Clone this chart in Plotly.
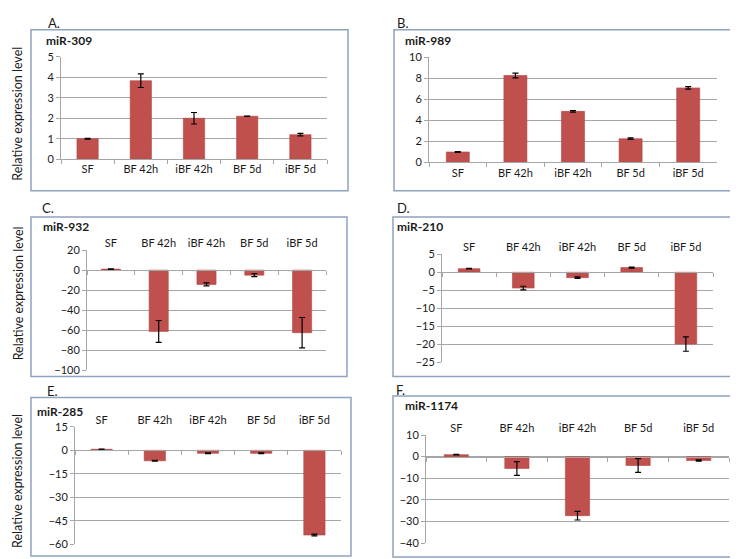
import plotly.graph_objects as go

W, H = 738, 559

categories = ["SF", "BF 42h", "iBF 42h", "BF 5d", "iBF 5d"]

panel_letters = ["A.", "B.", "C.", "D.", "E.", "F."]
panel_titles = ["miR-309", "miR-989", "miR-932", "miR-210", "miR-285", "miR-1174"]

mir309 = [1.0, 3.83, 2.0, 2.1, 1.2]
mir309_err = [0.02, 0.33, 0.28, 0.01, 0.06]
mir989 = [1.0, 8.27, 4.86, 2.26, 7.09]
mir989_err = [0.03, 0.22, 0.08, 0.07, 0.12]
mir932 = [1.0, -61.2, -14.3, -5.0, -62.5]
mir932_err = [0.3, 10.9, 1.5, 1.5, 15.2]
mir210 = [1.0, -4.4, -1.5, 1.3, -20.0]
mir210_err = [0.1, 0.5, 0.2, 0.15, 2.0]
mir285 = [0.7, -6.7, -1.9, -1.9, -54.2]
mir285_err = [0.1, 0.3, 0.3, 0.3, 0.6]
mir1174 = [0.9, -5.5, -27.3, -4.1, -1.8]
mir1174_err = [0.1, 3.2, 2.0, 3.2, 0.3]

series = [mir309, mir989, mir932, mir210, mir285, mir1174]
errors = [mir309_err, mir989_err, mir932_err, mir210_err, mir285_err, mir1174_err]

y_ranges = [(0, 5), (0, 10), (-100, 20), (-25, 5), (-60, 15), (-40, 10)]
y_dticks = [1, 2, 20, 5, 15, 10]

# layout (pixel) geometry
plot_px = [  # x0, x1, ytop, ybottom
    (53, 319, 42.7, 147.7),
    (421, 709, 43.3, 151),
    (79, 318, 240.7, 363.7),
    (434, 705, 245, 355.3),
    (67, 333, 421.7, 541.7),
    (418, 721, 430, 540.7),
]
box_px = [
    (23, 340, 15, 180),
    (386, 728, 15, 180),
    (23, 339, 206.7, 370),
    (385, 727, 206.7, 370),
    (23, 343, 391.7, 554),
    (385, 727, 390, 555),
]
letter_px = [(38, 8), (387, 8), (32, 198), (387, 198), (37, 385), (386, 384)]
title_px = [(36, 26), (395, 26), (33, 217), (387, 217), (27, 406), (395, 400)]

BAR = "#C0504D"
BAR_EDGE = "#B24744"
GRID = "#A6A6A6"
BORDER = "#8EA3C0"
TXT = "#1a1a1a"
FONT = "Lato, 'Open Sans', sans-serif"


def px2x(px):
    return px / W


def px2y(py):
    return 1 - py / H


fig = go.Figure()
layout = dict(
    width=W, height=H, margin=dict(l=0, r=0, t=0, b=0),
    paper_bgcolor="white", plot_bgcolor="white",
    showlegend=False, bargap=0.6,
    font=dict(family=FONT, size=11, color=TXT),
    shapes=[], annotations=[],
)

extra_axis = 7
for i in range(6):
    n = i + 1
    xa = "x" if n == 1 else f"x{n}"
    ya = "y" if n == 1 else f"y{n}"
    x0, x1, yt, yb = plot_px[i]
    lo, hi = y_ranges[i]
    ydom = [px2y(yb), px2y(yt)]
    fig.add_trace(go.Bar(
        x=categories, y=series[i], xaxis=xa, yaxis=ya,
        marker=dict(color=BAR, line=dict(color=BAR_EDGE, width=0.6)),
        error_y=dict(type="data", array=errors[i], visible=True,
                     color="black", thickness=1.2, width=3),
    ))
    zero_pos = ydom[0] + (0 - lo) / (hi - lo) * (ydom[1] - ydom[0])
    xaxis = dict(
        domain=[px2x(x0), px2x(x1)], type="category",
        categoryorder="array", categoryarray=categories,
        range=[-0.5, 4.5], showline=True, linecolor=GRID, linewidth=1,
        ticks="outside", tickson="boundaries", ticklen=4, tickcolor=GRID,
        showgrid=False, zeroline=False, fixedrange=True,
        tickfont=dict(size=11, color=TXT),
    )
    if lo < 0:
        xaxis.update(anchor="free", position=zero_pos, showticklabels=False)
    else:
        xaxis.update(anchor=ya)
    layout["xaxis" if n == 1 else f"xaxis{n}"] = xaxis
    layout["yaxis" if n == 1 else f"yaxis{n}"] = dict(
        domain=ydom, range=[lo, hi], anchor=xa, dtick=y_dticks[i], tick0=0,
        showline=True, linecolor=GRID, linewidth=1,
        ticks="outside", ticklen=4, tickcolor=GRID,
        showgrid=True, gridcolor=GRID, gridwidth=1, zeroline=False,
        tickfont=dict(size=11, color=TXT), fixedrange=True,
    )
    if lo < 0:
        # category labels on top (Excel "high" label position)
        ex = f"x{extra_axis}"
        fig.add_trace(go.Scatter(
            x=categories, y=series[i], xaxis=ex, yaxis=ya,
            mode="markers", marker=dict(opacity=0), hoverinfo="skip",
        ))
        layout[f"xaxis{extra_axis}"] = dict(
            domain=[px2x(x0), px2x(x1)], type="category",
            categoryorder="array", categoryarray=categories,
            range=[-0.5, 4.5], anchor=ya, side="top", overlaying=xa,
            showline=False, ticks="", showgrid=False, zeroline=False,
            tickfont=dict(size=11, color=TXT), fixedrange=True,
        )
        extra_axis += 1

    bx0, bx1, by0, by1 = box_px[i]
    layout["shapes"].append(dict(
        type="rect", xref="paper", yref="paper",
        x0=px2x(bx0), x1=px2x(bx1), y0=px2y(by1), y1=px2y(by0),
        line=dict(color=BORDER, width=1.5), fillcolor="rgba(0,0,0,0)", layer="below",
    ))
    lx, ly = letter_px[i]
    layout["annotations"].append(dict(
        text=panel_letters[i], xref="paper", yref="paper",
        x=px2x(lx), y=px2y(ly), xanchor="left", yanchor="middle",
        showarrow=False, font=dict(size=13, color=TXT),
    ))
    tx, ty = title_px[i]
    layout["annotations"].append(dict(
        text=f"<b>{panel_titles[i]}</b>", xref="paper", yref="paper",
        x=px2x(tx), y=px2y(ty), xanchor="left", yanchor="middle",
        showarrow=False, font=dict(size=12, color=TXT),
    ))

for cy in (101, 285, 477):
    layout["annotations"].append(dict(
        text="Relative expression level", xref="paper", yref="paper",
        x=px2x(10), y=px2y(cy), xanchor="center", yanchor="middle",
        textangle=-90, showarrow=False, font=dict(size=12.5, color=TXT),
    ))

fig.update_layout(**layout)
fig.write_html("out.html")
